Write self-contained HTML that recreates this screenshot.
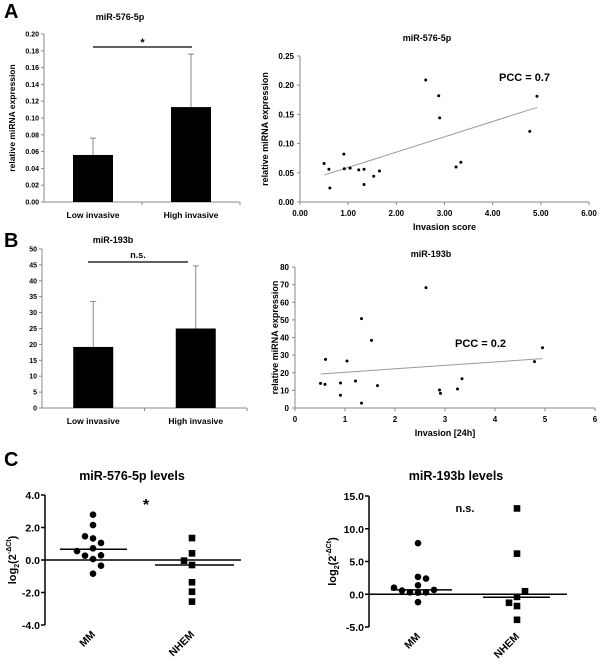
<!DOCTYPE html>
<html><head><meta charset="utf-8"><style>
html,body{margin:0;padding:0;background:#fff;width:600px;height:668px;overflow:hidden}
svg{display:block}
text{font-family:"Liberation Sans",Arial,sans-serif;fill:#000}
</style></head><body>
<svg id="fig" width="600" height="668" viewBox="0 0 600 668" xmlns="http://www.w3.org/2000/svg"></svg>
<script>
// ---------- data ----------
const barCatsA = ["Low invasive","High invasive"];
const barValsA = [0.056,0.113];
const barErrA = [0.076,0.176];
const barTicksA = ["0.00","0.02","0.04","0.06","0.08","0.10","0.12","0.14","0.16","0.18","0.20"];

const barCatsB = ["Low invasive","High invasive"];
const barValsB = [19.2,25.0];
const barErrB = [33.5,44.7];
const barTicksB = ["0","5","10","15","20","25","30","35","40","45","50"];

const scatAx = [0.50,0.60,0.62,0.91,0.92,1.04,1.22,1.33,1.33,1.53,1.65,2.61,2.88,2.90,3.24,3.34,4.77,4.92];
const scatAy = [0.066,0.056,0.024,0.082,0.057,0.058,0.055,0.056,0.030,0.044,0.053,0.209,0.182,0.144,0.060,0.068,0.121,0.181];
const trendA = [0.033,0.0262];
const scatAxTicks = ["0.00","1.00","2.00","3.00","4.00","5.00","6.00"];
const scatAyTicks = ["0.00","0.05","0.10","0.15","0.20","0.25"];

const scatBx = [0.51,0.60,0.61,0.91,0.91,1.04,1.21,1.33,1.33,1.53,1.65,2.62,2.89,2.91,3.25,3.34,4.79,4.95];
const scatBy = [14.0,13.4,27.6,14.2,7.2,26.7,15.3,50.7,2.8,38.4,12.7,68.3,10.2,8.3,10.8,16.6,26.3,34.2];
const trendB = [18.3,1.96];
const scatBxTicks = ["0","1","2","3","4","5","6"];
const scatByTicks = ["0","10","20","30","40","50","60","70","80"];

const dotCats = ["MM","NHEM"];
const dotC1mm = [2.79,2.15,1.46,1.33,1.05,0.72,0.55,0.27,0.29,0.06,-0.35,-0.84];
const dotC1mmJit = [0,0,-1,0,1,0,-2,-1,1,0,1,0];
const dotC1nh = [1.35,0.41,-0.04,-0.31,-1.37,-1.95,-2.56];
const dotC1nhJit = [0,0,-1,0,0,0,0];
const dotC1mean = [0.66,-0.31];
const dotC1Ticks = ["-4.0","-2.0","0.0","2.0","4.0"];

const dotC2mm = [7.8,2.65,2.4,1.37,1.0,0.56,0.3,0.3,0.66,0.25,-1.2];
const dotC2mmJit = [0,0,1,0,-3,-2,-1,1,2,0,0];
const dotC2nh = [13.1,6.2,0.46,-0.4,-1.3,-1.8,-3.9];
const dotC2nhJit = [0,0,1,0,-1,0,0];
const dotC2mean = [0.66,-0.46];
const dotC2Ticks = ["-5.0","0.0","5.0","10.0","15.0"];

// ---------- helpers ----------
const svg = document.getElementById('fig');
const NS = "http://www.w3.org/2000/svg";
function mk(tag, attrs, txt){
  const e = document.createElementNS(NS, tag);
  for (const k in attrs) e.setAttribute(k, attrs[k]);
  if (txt !== undefined) e.textContent = txt;
  svg.appendChild(e);
  return e;
}
function lin(d0,d1,r0,r1){return v=>r0+(v-d0)*(r1-r0)/(d1-d0);}

// panel letters
let e;
e = mk('text',{x:4,y:18,'font-size':20,'font-weight':'bold'},'A');
 
e = mk('text',{x:4,y:247,'font-size':20,'font-weight':'bold'},'B');
 
e = mk('text',{x:4,y:466,'font-size':20,'font-weight':'bold'},'C');
 

// ---------- bar chart ----------
function barChart(cfg){
  const y = lin(0,cfg.max,cfg.y0,cfg.y1);
  const ax = cfg.ax;
  e = mk('line',{x1:ax,y1:cfg.y1,x2:ax,y2:cfg.y0,stroke:'#888','stroke-width':1});
   
  e = mk('line',{x1:ax,y1:cfg.y0,x2:cfg.xe,y2:cfg.y0,stroke:'#888','stroke-width':1});
   
  cfg.ticks.forEach((t,i)=>{
    const v = cfg.max*i/(cfg.ticks.length-1);
    mk('line',{x1:ax-3,y1:y(v),x2:ax,y2:y(v),stroke:'#888'});
    e = mk('text',{x:ax-5,y:y(v)+2.5,'font-size':7,'font-weight':'bold','text-anchor':'end'},t);
     
  });
  const slot = (cfg.xe-ax)/cfg.cats.length;
  mk('line',{x1:ax+slot,y1:cfg.y0,x2:ax+slot,y2:cfg.y0+3,stroke:'#888'});
  mk('line',{x1:cfg.xe,y1:cfg.y0,x2:cfg.xe,y2:cfg.y0+3,stroke:'#888'});
  const cx=[];
  cfg.cats.forEach((c,i)=>{
    const c0 = ax+slot*(i+0.5); cx.push(c0);
    e = mk('line',{x1:c0,y1:y(cfg.err[i]),x2:c0,y2:y(cfg.vals[i]),stroke:'#888','stroke-width':1});
     
    mk('line',{x1:c0-3,y1:y(cfg.err[i]),x2:c0+3,y2:y(cfg.err[i]),stroke:'#888','stroke-width':1});
    e = mk('rect',{x:c0-20,y:y(cfg.vals[i]),width:40,height:cfg.y0-y(cfg.vals[i]),fill:'#000'});
     
    e = mk('text',{x:c0,y:cfg.y0+16,'font-size':8.5,'font-weight':'bold','text-anchor':'middle'},c);
     
  });
  e = mk('line',{x1:cfg.sig[0],y1:cfg.sig[2],x2:cfg.sig[1],y2:cfg.sig[2],stroke:'#000','stroke-width':1.3});
   
  e = mk('text',{x:(cfg.sig[0]+cfg.sig[1])/2,y:cfg.sig[2]+cfg.sigDy,'font-size':cfg.sigSize,'font-weight':'bold','text-anchor':'middle'},cfg.sigText);
   
  e = mk('text',{x:cfg.tx,y:cfg.ty,'font-size':9,'font-weight':'bold','text-anchor':'middle'},cfg.title);
   
  if (cfg.ytitle){
    e = mk('text',{x:0,y:0,'font-size':8.5,'font-weight':'bold','text-anchor':'middle',transform:`translate(15,${(cfg.y0+cfg.y1)/2}) rotate(-90)`},cfg.ytitle);
     
  }
}
barChart({id:'bar-a',cats:barCatsA,vals:barValsA,err:barErrA,ticks:barTicksA,max:0.20,y0:202,y1:34,ax:44,xe:240,
  sig:[93,192,47],sigText:'*',sigDy:-1,sigSize:11,title:'miR-576-5p',tx:120,ty:20,ytitle:'relative miRNA expression'});
barChart({id:'bar-b',cats:barCatsB,vals:barValsB,err:barErrB,ticks:barTicksB,max:50,y0:408,y1:249,ax:42,xe:247,
  sig:[88,188,262],sigText:'n.s.',sigDy:-4,sigSize:9,title:'miR-193b',tx:113,ty:243,ytitle:null});

// ---------- scatter ----------
function scatter(cfg){
  const x = lin(0,cfg.xmax,cfg.x0,cfg.x1), y = lin(0,cfg.ymax,cfg.y0,cfg.y1);
  e = mk('line',{x1:cfg.x0,y1:cfg.y1,x2:cfg.x0,y2:cfg.y0,stroke:'#888'});
   
  e = mk('line',{x1:cfg.x0,y1:cfg.y0,x2:cfg.x1,y2:cfg.y0,stroke:'#888'});
   
  cfg.xt.forEach((t,i)=>{
    const v=cfg.xmax*i/(cfg.xt.length-1);
    mk('line',{x1:x(v),y1:cfg.y0,x2:x(v),y2:cfg.y0+3,stroke:'#888'});
    e = mk('text',{x:x(v),y:cfg.y0+14,'font-size':8,'font-weight':'bold','text-anchor':'middle'},t);
     
  });
  cfg.yt.forEach((t,i)=>{
    const v=cfg.ymax*i/(cfg.yt.length-1);
    mk('line',{x1:cfg.x0-3,y1:y(v),x2:cfg.x0,y2:y(v),stroke:'#888'});
    e = mk('text',{x:cfg.x0-6,y:y(v)+3,'font-size':8,'font-weight':'bold','text-anchor':'end'},t);
     
  });
  const xs=cfg.xs;
  const mn=Math.min(...xs), mx=Math.max(...xs);
  e = mk('line',{x1:x(mn),y1:y(cfg.tr[0]+cfg.tr[1]*mn),x2:x(mx),y2:y(cfg.tr[0]+cfg.tr[1]*mx),stroke:'#999','stroke-width':1});
   
  xs.forEach((v,i)=>{
    e = mk('circle',{cx:x(v),cy:y(cfg.ys[i]),r:1.5,fill:'#000'});
     
  });
  e = mk('text',{x:cfg.tx,y:cfg.ty,'font-size':9,'font-weight':'bold','text-anchor':'middle'},cfg.title);
   
  e = mk('text',{x:cfg.px,y:cfg.py,'font-size':11,'font-weight':'bold'},cfg.pcc);
   
  e = mk('text',{x:(cfg.x0+cfg.x1)/2,y:cfg.y0+28,'font-size':9,'font-weight':'bold','text-anchor':'middle'},cfg.xtitle);
   
  e = mk('text',{x:0,y:0,'font-size':9,'font-weight':'bold','text-anchor':'middle',transform:`translate(${cfg.yx},${(cfg.y0+cfg.y1)/2}) rotate(-90)`},'relative miRNA expression');
   
}
scatter({id:'scatter-a',xs:scatAx,ys:scatAy,tr:trendA,xt:scatAxTicks,yt:scatAyTicks,xmax:6,ymax:0.25,x0:300,x1:589,y0:202,y1:56,
  title:'miR-576-5p',tx:427,ty:41,pcc:'PCC = 0.7',px:499,py:81,xtitle:'Invasion score',yx:268});
scatter({id:'scatter-b',xs:scatBx,ys:scatBy,tr:trendB,xt:scatBxTicks,yt:scatByTicks,xmax:6,ymax:80,x0:295,x1:595,y0:408,y1:267,
  title:'miR-193b',tx:431,ty:257,pcc:'PCC = 0.2',px:455,py:347,xtitle:'Invasion [24h]',yx:278});

// ---------- dot plots ----------
function dotPlot(cfg){
  const y = lin(cfg.ymin,cfg.ymax,cfg.y0,cfg.y1);
  e = mk('line',{x1:cfg.ax,y1:cfg.y1,x2:cfg.ax,y2:cfg.y0,stroke:'#000','stroke-width':1.5});
   
  cfg.ticks.forEach((t,i)=>{
    const v=cfg.ymin+(cfg.ymax-cfg.ymin)*i/(cfg.ticks.length-1);
    mk('line',{x1:cfg.ax-4,y1:y(v),x2:cfg.ax,y2:y(v),stroke:'#000','stroke-width':1.5});
    e = mk('text',{x:cfg.ax-5,y:y(v)+4,'font-size':10.5,'font-weight':'bold','text-anchor':'end'},t);
     
  });
  e = mk('line',{x1:cfg.ax,y1:y(0),x2:cfg.xe,y2:y(0),stroke:'#000','stroke-width':1.5});
   
  const groups=[[cfg.mm,cfg.mmJ,'circle'],[cfg.nh,cfg.nhJ,'square']];
  groups.forEach((g,gi)=>{
    const cx=cfg.cx[gi];
    g[0].forEach((v,i)=>{
      const px=cx+g[1][i]*8;
      if(g[2]==='circle'){
        e = mk('circle',{cx:px,cy:y(v),r:3.3,fill:'#000'});
      } else {
        e = mk('rect',{x:px-3.3,y:y(v)-3.3,width:6.6,height:6.6,fill:'#000'});
      }
       
    });
    e = mk('line',{x1:cx-cfg.mw[gi][0],y1:y(cfg.mean[gi]),x2:cx+cfg.mw[gi][1],y2:y(cfg.mean[gi]),stroke:'#000','stroke-width':1.5});
     
    e = mk('text',{x:0,y:0,'font-size':10.5,'font-weight':'bold','text-anchor':'end',transform:`translate(${cx+3},${cfg.y0+10}) rotate(-45)`},dotCats[gi]);
     
  });
  e = mk('text',{x:cfg.tx,y:cfg.ty,'font-size':12.5,'font-weight':'bold','text-anchor':'middle'},cfg.title);
   
  e = mk('text',{x:cfg.sx,y:cfg.sy,'font-size':cfg.ss,'font-weight':'bold','text-anchor':'middle'},cfg.sig);
   
  const yt = mk('text',{x:0,y:0,'font-size':11,'font-weight':'bold','text-anchor':'middle',transform:`translate(${cfg.yx},${(cfg.y0+cfg.y1)/2}) rotate(-90)`});
   
  yt.innerHTML='log<tspan font-size="7" dy="3">2</tspan><tspan dy="-3">(2</tspan><tspan font-size="7" dy="-5">-ΔCt</tspan><tspan dy="5">)</tspan>';
}
dotPlot({id:'dots-576',mm:dotC1mm,mmJ:dotC1mmJit,nh:dotC1nh,nhJ:dotC1nhJit,mean:dotC1mean,ticks:dotC1Ticks,ymin:-4,ymax:4,
  y0:625,y1:495,ax:45,xe:241,cx:[93,192],mw:[[33,34],[37,42]],title:'miR-576-5p levels',tx:132,ty:480,sig:'*',sx:146,sy:510,ss:16,yx:16});
dotPlot({id:'dots-193',mm:dotC2mm,mmJ:dotC2mmJit,nh:dotC2nh,nhJ:dotC2nhJit,mean:dotC2mean,ticks:dotC2Ticks,ymin:-5,ymax:15,
  y0:627,y1:496,ax:369,xe:567,cx:[418,517],mw:[[27,34],[34,33]],title:'miR-193b levels',tx:456,ty:480,sig:'n.s.',sx:465,sy:512,ss:11,yx:336});
</script>
</body></html>
